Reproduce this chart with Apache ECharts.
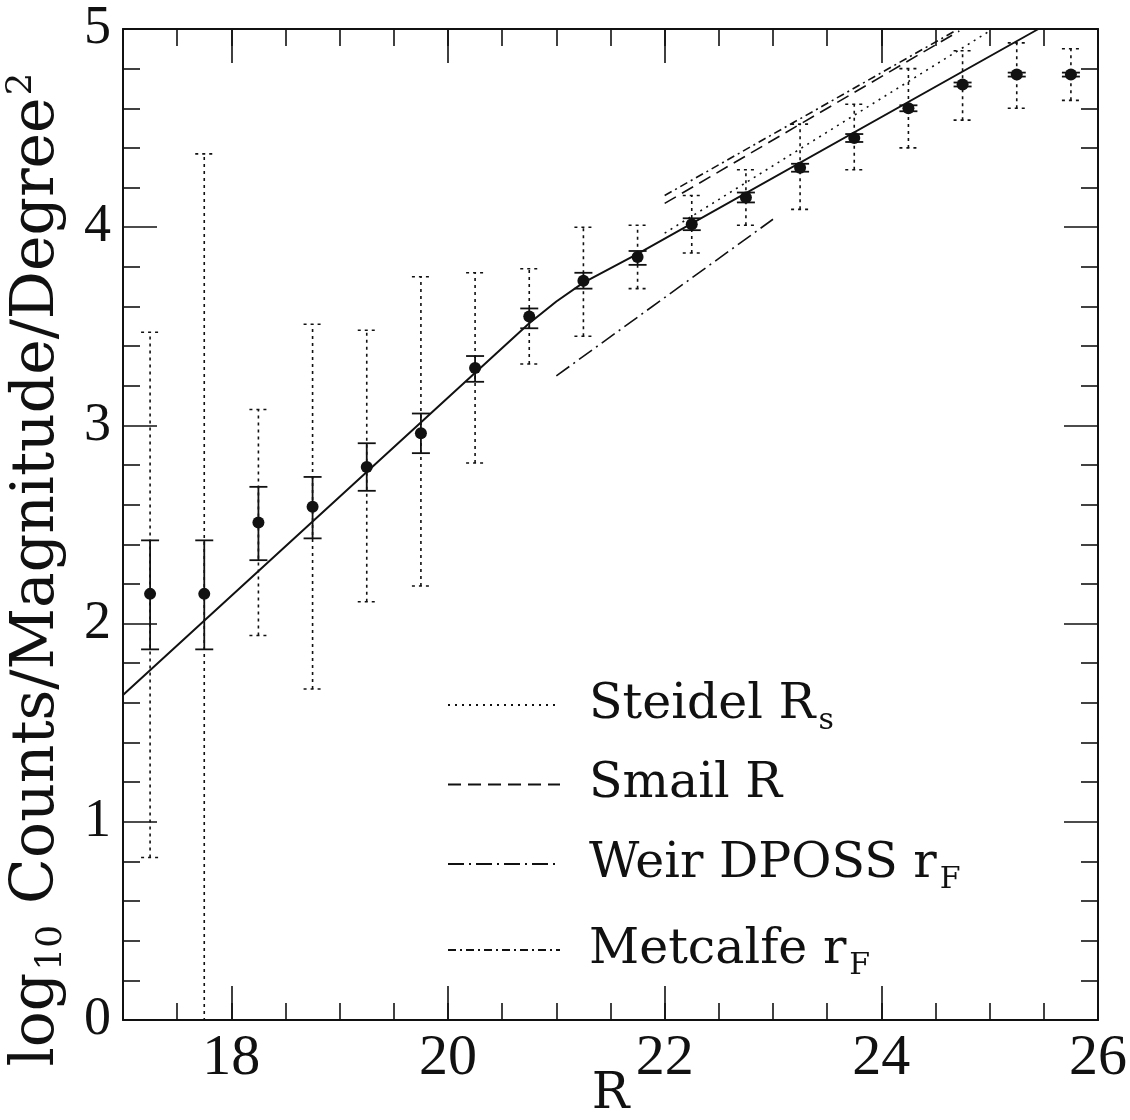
<!DOCTYPE html>
<html><head><meta charset="utf-8">
<script src="https://cdn.jsdelivr.net/npm/echarts@6/dist/echarts.min.js"></script>
<style>html,body{margin:0;padding:0;background:#fff}#c{width:1130px;height:1120px}</style>
</head><body><div id="c"></div>
<script>
// Magnitude bins (R) and log10 counts
const R      = [17.25, 17.75, 18.25, 18.75, 19.25, 19.75, 20.25, 20.75, 21.25, 21.75, 22.25, 22.75, 23.25, 23.75, 24.25, 24.75, 25.25, 25.75];
const logN   = [2.15, 2.15, 2.51, 2.59, 2.79, 2.96, 3.29, 3.55, 3.73, 3.85, 4.015, 4.15, 4.30, 4.45, 4.60, 4.72, 4.77, 4.77];
// solid (statistical) error bars
const statLo = [1.87, 1.87, 2.32, 2.43, 2.67, 2.86, 3.22, 3.49, 3.69, 3.81, 3.985, 4.125, 4.28, 4.43, 4.585, 4.71, 4.76, 4.76];
const statHi = [2.42, 2.42, 2.69, 2.74, 2.91, 3.06, 3.35, 3.59, 3.77, 3.88, 4.045, 4.175, 4.32, 4.47, 4.615, 4.73, 4.78, 4.78];
// dotted (systematic) error bars
const sysLo  = [0.82, -0.5, 1.94, 1.67, 2.11, 2.19, 2.81, 3.31, 3.45, 3.69, 3.87, 4.01, 4.09, 4.29, 4.40, 4.54, 4.60, 4.64];
const sysHi  = [3.47, 4.37, 3.08, 3.51, 3.48, 3.75, 3.77, 3.79, 4.00, 4.01, 4.16, 4.29, 4.52, 4.62, 4.80, 4.89, 4.93, 4.90];
// model fit (solid line)
const fitR = [17.0, 20.45, 20.75, 21.0, 21.25, 21.75, 25.45];
const fitN = [1.64, 3.365, 3.515, 3.625, 3.72, 3.865, 5.0];
// comparison counts
const steidelR  = [22.0, 25.0];   const steidelN  = [3.97, 4.99];
const smailR    = [22.0, 24.72];  const smailN    = [4.12, 4.99];
const weirR     = [21.0, 23.0];   const weirN     = [3.25, 4.04];
const metcalfeR = [22.0, 24.68];  const metcalfeN = [4.16, 4.99];
// tick labels
const xLabels = [18, 20, 22, 24, 26];
const xMajor  = [18, 20, 22, 24];

const INK = '#111';
const SERIF = "'DejaVu Serif', serif";
const TICKFONT = "'Liberation Serif', serif";

function pairs(xs, ys) { return xs.map((x, i) => [x, ys[i]]); }
function errData(lo, hi) { return R.map((x, i) => [x, lo[i], hi[i]]); }
function errRender(capW, dash, width) {
  return function (params, api) {
    const x = api.value(0), lo = api.value(1), hi = api.value(2);
    const a = api.coord([x, lo]), b = api.coord([x, hi]);
    const st = { stroke: INK, lineWidth: width, lineDash: dash, fill: null };
    return { type: 'group', children: [
      { type: 'line', shape: { x1: a[0], y1: a[1], x2: b[0], y2: b[1] }, style: st },
      { type: 'line', shape: { x1: a[0] - capW / 2, y1: a[1], x2: a[0] + capW / 2, y2: a[1] }, style: st },
      { type: 'line', shape: { x1: b[0] - capW / 2, y1: b[1], x2: b[0] + capW / 2, y2: b[1] }, style: st }
    ]};
  };
}
function cmpLine(name, xs, ys, dash) {
  return { name: name, type: 'line', data: pairs(xs, ys), symbol: 'none', silent: true,
    lineStyle: { color: INK, width: 1.6, type: dash }, itemStyle: { color: INK }, z: 3 };
}

const legendText = {
  'Steidel': '{n|Steidel R}{s|s}',
  'Smail': '{n|Smail R}',
  'Weir': '{n|Weir DPOSS r}{s|F}',
  'Metcalfe': '{n|Metcalfe r}{s|F}'
};

const axisLineStyle = { color: INK, width: 2 };
const tickStyle = { color: INK, width: 1.6 };

const option = {
  animation: false,
  backgroundColor: '#fff',
  grid: { left: 123, right: 32, top: 29, bottom: 100, containLabel: false, outerBoundsMode: 'none' },
  xAxis: [
    { type: 'value', min: 17, max: 26, interval: 0.5, position: 'bottom',
      axisLine: { show: true, onZero: false, lineStyle: axisLineStyle },
      axisTick: { show: true, inside: true, length: 17, lineStyle: tickStyle },
      axisLabel: { show: true, customValues: xLabels, margin: 10, color: INK, fontFamily: TICKFONT, fontSize: 58 },
      splitLine: { show: false },
      name: 'R', nameLocation: 'middle', nameGap: 50, nameMoveOverlap: false,
      nameTextStyle: { fontFamily: SERIF, fontSize: 50, color: INK, lineHeight: 50 } },
    { type: 'value', min: 17, max: 26, position: 'bottom',
      axisLine: { show: false, onZero: false },
      axisTick: { show: true, inside: true, length: 34, customValues: xMajor, lineStyle: tickStyle },
      axisLabel: { show: false }, splitLine: { show: false } },
    { type: 'value', min: 17, max: 26, interval: 0.5, position: 'top',
      axisLine: { show: true, onZero: false, lineStyle: axisLineStyle },
      axisTick: { show: true, inside: true, length: 17, lineStyle: tickStyle },
      axisLabel: { show: false }, splitLine: { show: false } },
    { type: 'value', min: 17, max: 26, position: 'top',
      axisLine: { show: false, onZero: false },
      axisTick: { show: true, inside: true, length: 34, customValues: xMajor, lineStyle: tickStyle },
      axisLabel: { show: false }, splitLine: { show: false } }
  ],
  yAxis: [
    { type: 'value', min: 0, max: 5, interval: 1, position: 'left',
      axisLine: { show: true, onZero: false, lineStyle: axisLineStyle },
      axisTick: { show: true, inside: true, length: 34, lineStyle: tickStyle },
      minorTick: { show: true, splitNumber: 5, length: 17, lineStyle: tickStyle },
      axisLabel: { margin: 12, color: INK, fontFamily: TICKFONT, fontSize: 54 },
      splitLine: { show: false }, minorSplitLine: { show: false },
      name: '{a|log}{s|10}{a| Counts/Magnitude/Degree}{p|2}',
      nameLocation: 'middle', nameGap: 53, nameMoveOverlap: false,
      nameTextStyle: { color: INK, padding: [0, 90, 0, 0], rich: {
        a: { fontFamily: SERIF, fontSize: 60, color: INK, lineHeight: 66 },
        s: { fontFamily: SERIF, fontSize: 36, color: INK, lineHeight: 36, padding: [30, 2, 0, 2] },
        p: { fontFamily: SERIF, fontSize: 36, color: INK, lineHeight: 36, padding: [0, 0, 30, 2] }
      } } },
    { type: 'value', min: 0, max: 5, interval: 1, position: 'right',
      axisLine: { show: true, onZero: false, lineStyle: axisLineStyle },
      axisTick: { show: true, inside: true, length: 34, lineStyle: tickStyle },
      minorTick: { show: true, splitNumber: 5, length: 17, lineStyle: tickStyle },
      axisLabel: { show: false }, splitLine: { show: false }, minorSplitLine: { show: false } }
  ],
  legend: {
    data: ['Steidel', 'Smail', 'Weir', 'Metcalfe'],
    orient: 'vertical', left: 442, top: 669,
    itemWidth: 112, itemHeight: 20, itemGap: 24,
    selectedMode: false,
    itemStyle: { opacity: 0 },
    formatter: function (name) { return legendText[name]; },
    textStyle: { color: INK, padding: [0, 0, 0, 24], rich: {
      n: { fontFamily: SERIF, fontSize: 49, color: INK, lineHeight: 58 },
      s: { fontFamily: SERIF, fontSize: 30, color: INK, lineHeight: 30, padding: [32, 0, 0, 3] }
    } }
  },
  series: [
    { type: 'custom', name: 'sys', data: errData(sysLo, sysHi), clip: true, silent: true,
      encode: { x: 0, y: [1, 2] }, renderItem: errRender(18, [3, 4], 1.6), z: 2 },
    { type: 'custom', name: 'stat', data: errData(statLo, statHi), clip: true, silent: true,
      encode: { x: 0, y: [1, 2] }, renderItem: errRender(18, null, 1.8), z: 2 },
    { type: 'line', name: 'fit', data: pairs(fitR, fitN), symbol: 'none', silent: true,
      lineStyle: { color: INK, width: 2 }, z: 3 },
    cmpLine('Steidel', steidelR, steidelN, [2, 5]),
    cmpLine('Smail', smailR, smailN, [13, 7]),
    cmpLine('Weir', weirR, weirN, [16, 5, 2, 5]),
    cmpLine('Metcalfe', metcalfeR, metcalfeN, [8, 4, 2, 4]),
    { type: 'scatter', name: 'data', data: pairs(R, logN), symbol: 'circle', symbolSize: 12,
      itemStyle: { color: INK, opacity: 1 }, silent: true, z: 5 }
  ]
};
const chart = echarts.init(document.getElementById('c'));
chart.setOption(option);
</script>
</body></html>
